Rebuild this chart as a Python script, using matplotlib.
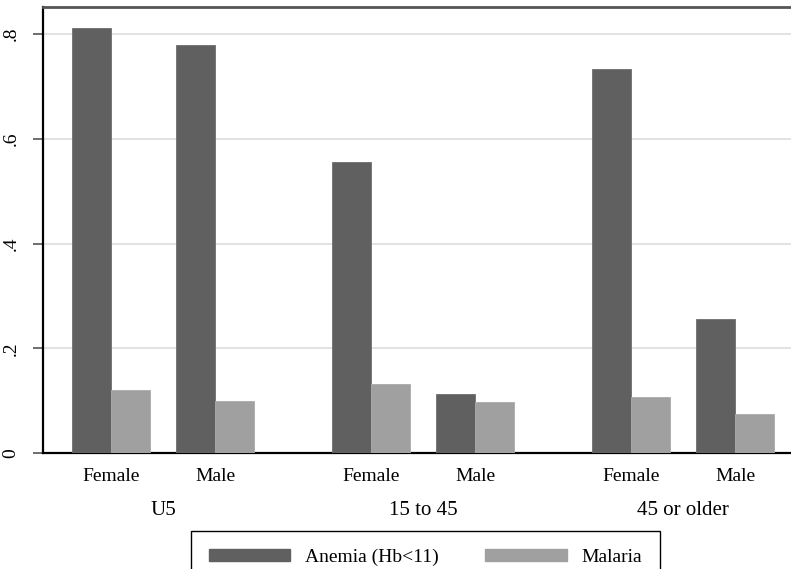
import numpy as np
import matplotlib.pyplot as plt
from matplotlib.patches import Patch

plt.rcParams['font.family'] = ['Liberation Serif', 'DejaVu Serif']

# data
groups = ['U5', '15 to 45', '45 or older']
sexes = ['Female', 'Male']
anemia = [0.811, 0.779, 0.555, 0.113, 0.733, 0.256]
malaria = [0.120, 0.099, 0.132, 0.097, 0.107, 0.075]
yticks = [0, 0.2, 0.4, 0.6, 0.8]
ytick_labels = ['0', '.2', '.4', '.6', '.8']

dark = '#606060'
light = '#a0a0a0'

fig = plt.figure(figsize=(7.91, 5.69), dpi=100)
ax = fig.add_axes([43 / 791, 1 - 453 / 569, 1 - 43 / 791, (453 - 7) / 569])

# positions in bar-width units
w = 1.0
left = []
for g in range(len(groups)):
    for s in range(len(sexes)):
        left.append(0.744 + g * 6.667 + s * 2.667)
left = np.array(left)

ax.bar(left, anemia, width=w, align='edge', color=dark, edgecolor='#6e6e6e', linewidth=0.6, zorder=3)
ax.bar(left + w, malaria, width=w, align='edge', color=light, edgecolor='#aaaaaa', linewidth=0.6, zorder=3)

ax.set_xlim(0, 19.18)
ax.set_ylim(0, 0.8516)

ax.set_yticks(yticks)
ax.set_yticklabels(ytick_labels, rotation=90, va='center', fontsize=14)
for y in yticks[1:]:
    ax.axhline(y, color='#e2e2e2', linewidth=1.4, zorder=1)

ax.set_xticks(left + w)
ax.set_xticklabels(sexes * len(groups), fontsize=14)
ax.tick_params(axis='x', length=0, pad=11)
ax.tick_params(axis='y', length=7, width=1.2, color='#555555', pad=10)

for g, name in enumerate(groups):
    cx = (left[2 * g] + left[2 * g + 1] + 2 * w) / 2
    ax.text(cx, -0.128, name, transform=ax.get_xaxis_transform(), ha='center', va='center', fontsize=15)

ax.spines['right'].set_visible(False)
ax.spines['left'].set_linewidth(1.6)
ax.spines['bottom'].set_linewidth(1.6)
ax.spines['top'].set_color('#555555')
ax.spines['top'].set_linewidth(2)

handles = [Patch(facecolor=dark, edgecolor=dark), Patch(facecolor=light, edgecolor=light)]
fig.legend(handles, ['Anemia (Hb<11)', 'Malaria'], ncol=2, loc='upper left',
           bbox_to_anchor=(191 / 791, 1 - 531 / 569), fontsize=14,
           frameon=True, fancybox=False, edgecolor='black', framealpha=1,
           handlelength=4.2, handleheight=0.65, handletextpad=0.75,
           columnspacing=2.4, borderpad=0.9, borderaxespad=0)

fig.savefig('out.png', dpi=100)
